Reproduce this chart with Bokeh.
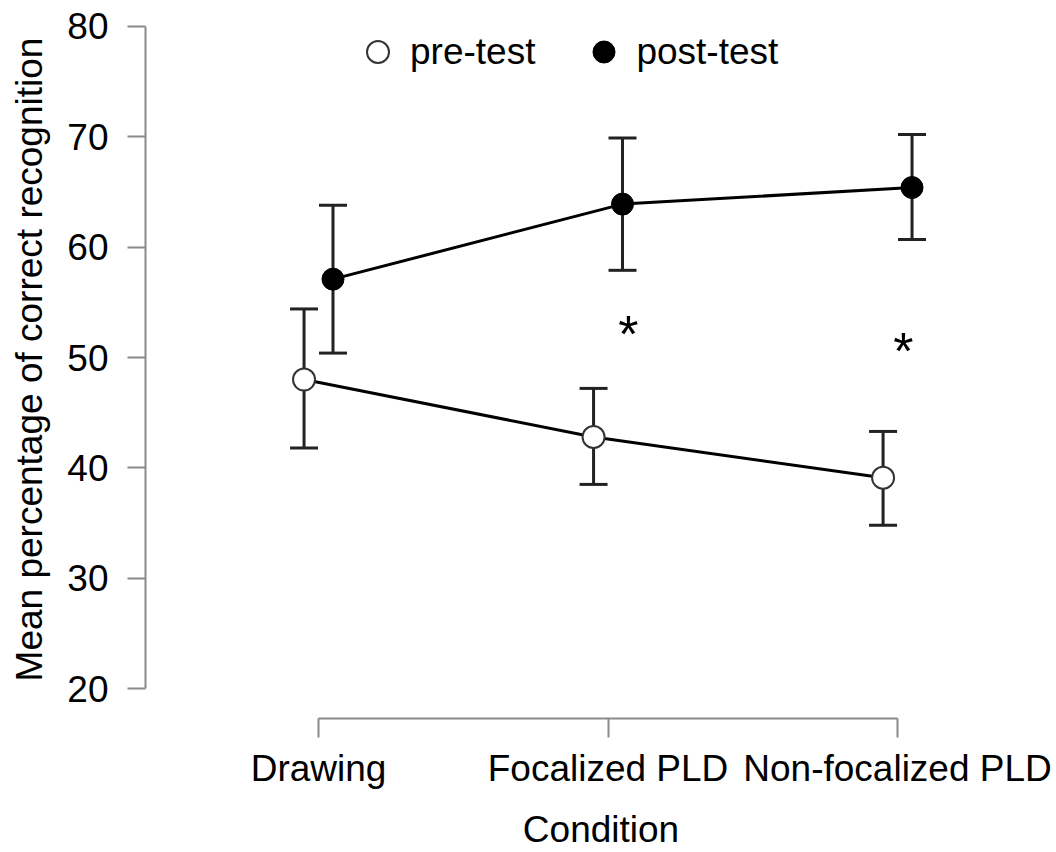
from bokeh.plotting import figure
from bokeh.models import (Range1d, FixedTicker, Legend, LegendItem, Whisker,
                          TeeHead, ColumnDataSource)
from bokeh.core.properties import value
from bokeh.embed import file_html
from bokeh.resources import INLINE

# ---- data ----
conditions = ["Drawing", "Focalized PLD", "Non-focalized PLD"]
pre_mean = [48.0, 42.8, 39.1]
pre_lower = [41.8, 38.5, 34.8]
pre_upper = [54.4, 47.2, 43.3]
post_mean = [57.1, 63.9, 65.4]
post_lower = [50.4, 57.9, 60.7]
post_upper = [63.8, 69.9, 70.2]
sig_x = [1.07, 2.02]          # asterisk positions (condition axis)
sig_y = [52.8, 51.2]
sig_text = ["*", "*"]
y_ticks = [20, 30, 40, 50, 60, 70, 80]
series_labels = ["pre-test", "post-test"]

FONT = "Liberation Sans"
FS = "37px"
AXIS_GREY = "#8a8a8a"
DODGE = 0.05

idx = list(range(len(conditions)))
x_pre = [i - DODGE for i in idx]
x_post = [i + DODGE for i in idx]

p = figure(width=1056, height=852, output_backend="svg", toolbar_location=None,
           x_range=Range1d(-0.5976, 2.549), y_range=Range1d(17.289, 82.349),
           min_border_left=145, min_border_right=0, min_border_top=0,
           min_border_bottom=132, background_fill_color="white",
           border_fill_color="white", outline_line_color=None)
p.grid.visible = False

# axes
xa = p.xaxis[0]
xa.ticker = FixedTicker(ticks=idx)
xa.major_label_overrides = {i: c for i, c in zip(idx, conditions)}
xa.bounds = (0, 2)
xa.axis_label = "Condition"
ya = p.yaxis[0]
ya.ticker = FixedTicker(ticks=y_ticks)
ya.bounds = (20, 80)
ya.axis_label = "Mean percentage of correct recognition"
for ax in (xa, ya):
    ax.axis_line_color = AXIS_GREY
    ax.axis_line_width = 2
    ax.major_tick_line_color = AXIS_GREY
    ax.major_tick_line_width = 2
    ax.major_tick_in = 0
    ax.minor_tick_line_color = None
    ax.major_label_text_font = FONT
    ax.major_label_text_font_size = FS
    ax.major_label_text_color = "black"
    ax.axis_label_text_font = FONT
    ax.axis_label_text_font_size = FS
    ax.axis_label_text_font_style = "normal"
    ax.axis_label_text_color = "black"
xa.major_tick_out = 19
xa.major_label_standoff = 10
xa.axis_label_standoff = 17
ya.major_tick_out = 18
ya.major_label_standoff = 19
ya.axis_label_standoff = 14

# error bars
for xs, lo, hi in ((x_pre, pre_lower, pre_upper), (x_post, post_lower, post_upper)):
    src = ColumnDataSource(dict(base=xs, lower=lo, upper=hi))
    w = Whisker(source=src, base="base", lower="lower", upper="upper",
                dimension="height", line_width=3, line_color="#222222",
                upper_head=TeeHead(size=28, line_width=3, line_color="#222222"),
                lower_head=TeeHead(size=28, line_width=3, line_color="#222222"),
                level="underlay")
    p.add_layout(w)

# series lines and points
p.line(x_pre, pre_mean, line_width=3, line_color="black")
p.line(x_post, post_mean, line_width=3, line_color="black")
r_pre = p.scatter(x_pre, pre_mean, size=22, marker="circle", fill_color="white",
                  line_color="#333333", line_width=2)
r_post = p.scatter(x_post, post_mean, size=22, marker="circle", fill_color="black",
                   line_color="black", line_width=1)

# significance asterisks
p.text(x=sig_x, y=sig_y, text=sig_text, text_font=value(FONT), text_font_size="52px",
       text_align="center", text_baseline="alphabetic", y_offset=7, text_color="black")

legend = Legend(items=[LegendItem(label=series_labels[0], renderers=[r_pre]),
                       LegendItem(label=series_labels[1], renderers=[r_post])],
                orientation="horizontal", location=(205, 639),
                glyph_width=55, glyph_height=55, label_standoff=5, spacing=41,
                padding=0, margin=0, border_line_alpha=0, background_fill_alpha=0,
                label_text_font=FONT, label_text_font_size=FS,
                label_text_color="black")
p.add_layout(legend)

open("out.html", "w").write(file_html(p, INLINE))
